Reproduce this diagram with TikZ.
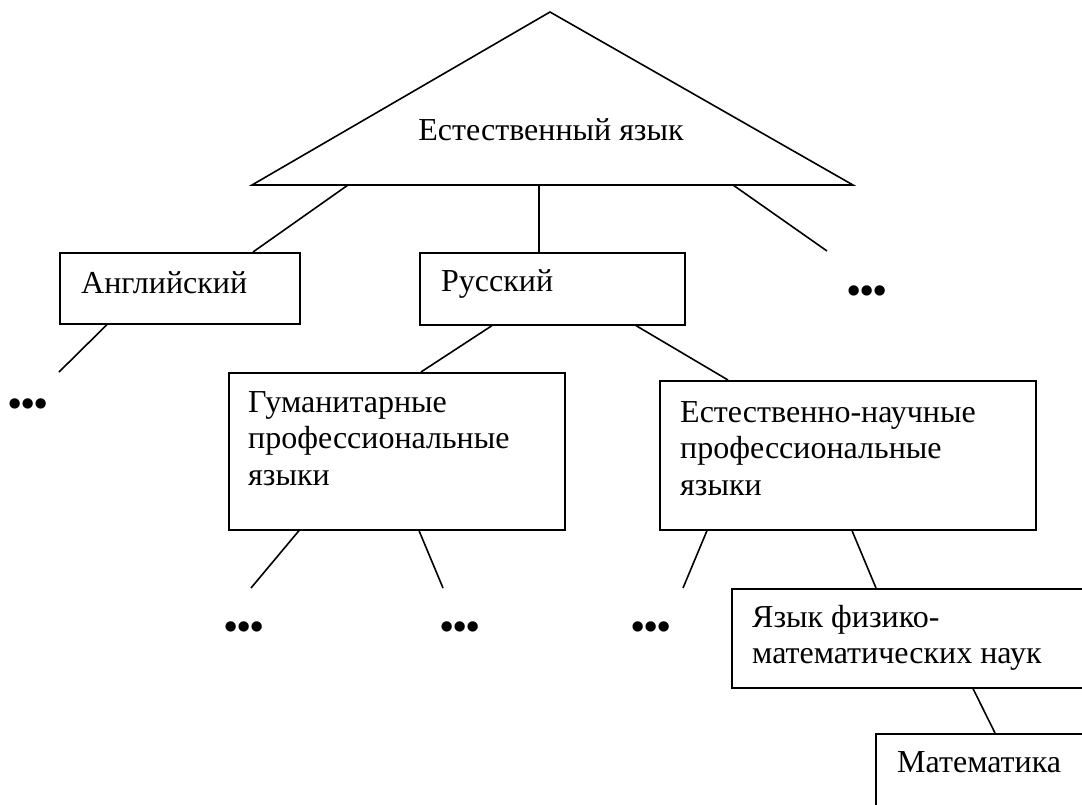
\documentclass[tikz,border=0pt]{standalone}
\usepackage{fontspec}
\setmainfont{Liberation Serif}
\usetikzlibrary{calc}
\tikzset{
  box/.style={draw, line width=1.6pt, anchor=north west, inner sep=0pt},
  lbl/.style={anchor=base west, inner sep=0pt, align=left, font=\fontsize{32}{36.7}\selectfont},
  conn/.style={line width=1.6pt},
  more/.style={anchor=center, inner sep=0pt, font=\fontsize{38}{38}\selectfont\bfseries}
}
\begin{document}
\begin{tikzpicture}[x=1pt,y=-1pt]
\useasboundingbox (0,0) rectangle (1082,804);
\clip (0,0) rectangle (1082,804);
% triangle
\coordinate (apex) at (550,12);
\coordinate (bl) at (252,185);
\coordinate (br) at (853,185);
\draw[conn, line join=miter] (apex) -- (bl) -- (br) -- cycle;
\node[anchor=base, inner sep=0pt, font=\fontsize{32}{36.7}\selectfont] (root) at (551,140) {Естественный язык};
% boxes
\node[box, minimum width=240pt, minimum height=71pt] (eng) at (59,252) {};
\node[box, minimum width=265pt, minimum height=72pt] (rus) at (419,252) {};
\node[box, minimum width=336pt, minimum height=157pt] (hum) at (228,372) {};
\node[box, minimum width=376pt, minimum height=149pt] (nat) at (659,380) {};
\node[box, minimum width=380pt, minimum height=99pt] (phys) at (731,588) {};
\node[box, minimum width=300pt, minimum height=120pt] (math) at (875,733) {};
% labels
\node[lbl] (engt) at (81,293) {Английский};
\node[lbl] (rust) at (441,291) {Русский};
\node[lbl] (humt) at (248,485.4) {Гуманитарные\\профессиональные\\языки};
\node[lbl] (natt) at (680,495.4) {Естественно-научные\\профессиональные\\языки};
\node[lbl] (physt) at (752,663.7) {Язык физико-\\математических наук};
\node[lbl] (matht) at (897,772) {Математика};
% dots
\node[more] (d1) at (28,408) {•••};
\node[more] (d2) at (867,295) {•••};
\node[more] (d3) at (244,631) {•••};
\node[more] (d4) at (460,631) {•••};
\node[more] (d5) at (651,631) {•••};
% free ends
\coordinate (e1) at (827,251);
\coordinate (e2) at (59,372);
\coordinate (e3) at (251,588);
\coordinate (e4) at (443,588);
\coordinate (e5) at (683,588);
% connectors
\draw[conn] ($(bl)+(96,0)$) -- ($(eng.north west)+(194,0)$);
\draw[conn] ($(bl)+(287,0)$) -- ($(rus.north west)+(120,0)$);
\draw[conn] ($(bl)+(481,0)$) -- (e1);
\draw[conn] ($(eng.south west)+(48,0)$) -- (e2);
\draw[conn] ($(rus.south west)+(73,0)$) -- ($(hum.north west)+(193,0)$);
\draw[conn] ($(rus.south west)+(217,0)$) -- ($(nat.north west)+(69,0)$);
\draw[conn] ($(hum.south west)+(71,0)$) -- (e3);
\draw[conn] ($(hum.south west)+(191,0)$) -- (e4);
\draw[conn] ($(nat.south west)+(48,0)$) -- (e5);
\draw[conn] ($(nat.south west)+(193,0)$) -- ($(phys.north west)+(145,0)$);
\draw[conn] ($(phys.south west)+(242,0)$) -- ($(math.north west)+(120,0)$);
\end{tikzpicture}
\end{document}
